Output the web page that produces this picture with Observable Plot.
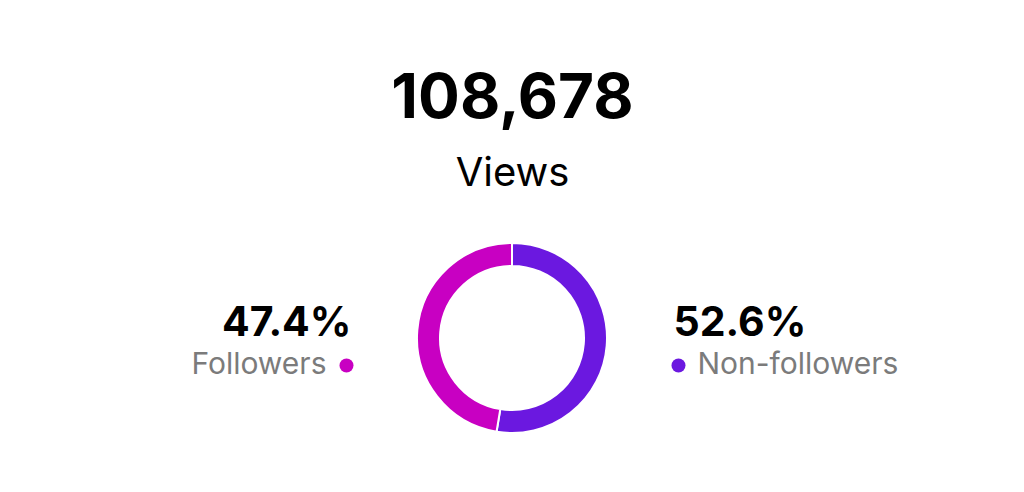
<!DOCTYPE html>
<html>
<head>
<meta charset="utf-8">
<script src="https://cdn.jsdelivr.net/npm/d3@7"></script>
<script src="https://cdn.jsdelivr.net/npm/@observablehq/plot@0.6"></script>
<style>
  html, body { margin: 0; padding: 0; background: #fff; }
  body { width: 1024px; height: 492px; overflow: hidden; }
</style>
</head>
<body>
<div id="chart"></div>
<script>
// ---- data ----
const totalViews = 108678;
const metricLabel = "Views";
const categories = ["Followers", "Non-followers"];
const shares = [47.4, 52.6];
const colors = ["#c800c2", "#6b18e0"];

const data = categories.map((c, i) => ({ category: c, share: shares[i], side: i === 0 ? -1 : 1 }));
const leftData = data.filter(d => d.side < 0);
const rightData = data.filter(d => d.side > 0);

// ---- layout ----
const W = 1024, H = 492;
const cx = 512, cy = 338;
const rOuter = 95, rInner = 72;
const pctGap = 161;   // distance from center to percentage text edge
const labelGap = 186; // distance from center to label text edge
const dotGap = 166;   // distance from center to legend dot

const font = "Inter, 'Noto Sans', sans-serif";

// donut as a custom render mark, drawn from the data with d3.pie / d3.arc
function donut(index, scales) {
  const pie = d3.pie().value(d => d.share).sort(null);
  // Non-followers starts at 12 o'clock going clockwise, then Followers
  const ordered = [...data].reverse();
  const arc = d3.arc().innerRadius(rInner).outerRadius(rOuter);
  const g = d3.create("svg:g").attr("transform", `translate(${cx},${cy})`);
  g.selectAll("path")
    .data(pie(ordered))
    .join("path")
    .attr("d", arc)
    .attr("fill", d => scales.color(d.data.category))
    .attr("stroke", "#fff")
    .attr("stroke-width", 2);
  return g.node();
}

const pctStyle = { fontSize: 41, fontWeight: 700, fill: "#000", lineAnchor: "bottom" };
const lblStyle = { fontSize: 30, fontWeight: 400, fill: "#7b7b7b", lineAnchor: "bottom" };

const chart = Plot.plot({
  width: W,
  height: H,
  margin: 0,
  style: { fontFamily: font, background: "#fff" },
  x: { type: "identity" },
  y: { type: "identity" },
  color: { domain: categories, range: colors },
  axis: null,
  marks: [
    donut,
    Plot.text([totalViews], {
      x: () => cx, y: () => 117, text: d => d3.format(",")(d),
      fontSize: 62, fontWeight: 700, fill: "#000", lineAnchor: "bottom", textAnchor: "middle"
    }),
    Plot.text([metricLabel], {
      x: () => cx, y: () => 185, text: d => d,
      fontSize: 40, fontWeight: 400, fill: "#000", lineAnchor: "bottom", textAnchor: "middle"
    }),
    Plot.text(leftData, {
      x: d => cx + d.side * pctGap, y: () => 335, text: d => d.share.toFixed(1) + "%",
      textAnchor: "end", ...pctStyle
    }),
    Plot.text(rightData, {
      x: d => cx + d.side * pctGap, y: () => 335, text: d => d.share.toFixed(1) + "%",
      textAnchor: "start", ...pctStyle
    }),
    Plot.text(leftData, {
      x: d => cx + d.side * labelGap, y: () => 373, text: "category",
      textAnchor: "end", ...lblStyle
    }),
    Plot.text(rightData, {
      x: d => cx + d.side * labelGap - 1, y: () => 373, text: "category",
      textAnchor: "start", ...lblStyle
    }),
    Plot.dot(data, {
      x: d => cx + d.side * dotGap, y: () => 365, fill: "category", r: 7, stroke: null
    })
  ]
});

document.getElementById("chart").append(chart);
</script>
</body>
</html>
